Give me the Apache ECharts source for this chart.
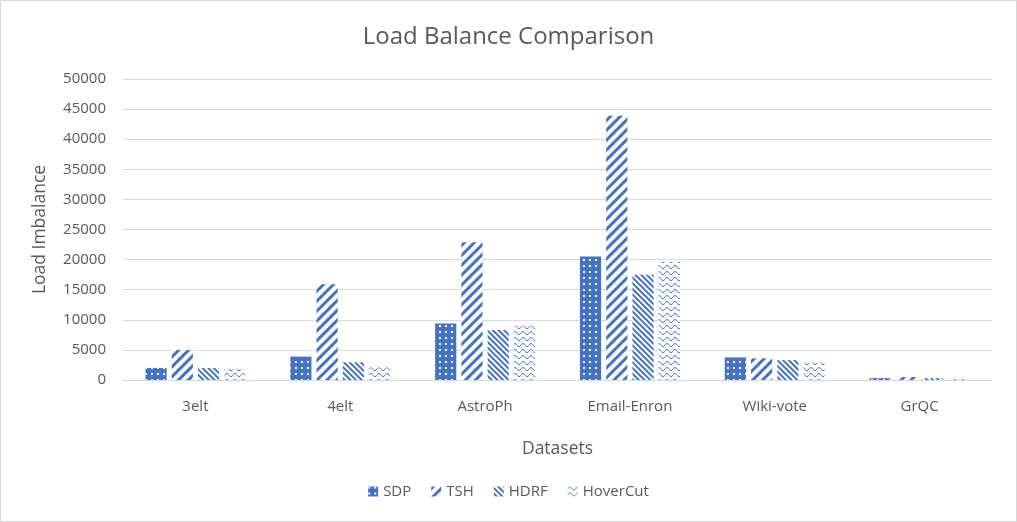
<!DOCTYPE html>
<html>
<head>
<meta charset="utf-8">
<script src="https://cdn.jsdelivr.net/npm/echarts@6/dist/echarts.min.js"></script>
<style>
    html, body { margin: 0; padding: 0; background: #fff; }
    #chart { width: 1017px; height: 522px; box-sizing: border-box; border: 1px solid #d9d9d9; }
</style>
</head>
<body>
<div id="chart"></div>
<script>
var categories = ['3elt', '4elt', 'AstroPh', 'Email-Enron', 'Wiki-vote', 'GrQC'];
var seriesNames = ['SDP', 'TSH', 'HDRF', 'HoverCut'];
var sdpValues = [2000, 3900, 9400, 20500, 3750, 300];
var tshValues = [5000, 15900, 22900, 43900, 3600, 500];
var hdrfValues = [2000, 2950, 8300, 17500, 3300, 300];
var hoverCutValues = [1800, 2100, 9000, 19600, 2900, 200];

var main = function () {
    var blue = '#4472c4';
    var textColor = '#595959';
    var font = '"Open Sans", "Noto Sans", sans-serif';

    // pattern fills, close to the excel ones
    var decals = {
        SDP: {
            color: '#fff', symbol: 'rect', symbolSize: 1,
            dashArrayX: [1.4, 3.6], dashArrayY: [1.4, 3.6]
        },
        TSH: {
            color: blue, symbol: 'rect', symbolSize: 1,
            dashArrayX: [[1, 0]], dashArrayY: [2.6, 3.2], rotation: -Math.PI / 4
        },
        HDRF: {
            color: blue, symbol: 'rect', symbolSize: 1,
            dashArrayX: [[1, 0]], dashArrayY: [1.6, 1.5], rotation: Math.PI / 4
        },
        HoverCut: {
            color: blue,
            symbol: 'path://M0,1.5 C1.3,-0.5 2.7,-0.5 4,1.5 C5.3,3.5 6.7,3.5 8,1.5 L8,2.5 C6.7,4.5 5.3,4.5 4,2.5 C2.7,0.5 1.3,0.5 0,2.5 Z',
            symbolSize: 1, symbolKeepAspect: false,
            dashArrayX: [[8, 0]], dashArrayY: [4, 2]
        }
    };
    var values = {SDP: sdpValues, TSH: tshValues, HDRF: hdrfValues, HoverCut: hoverCutValues};

    var makeSeries = function (name) {
        return {
            name: name,
            type: 'bar',
            data: values[name],
            barGap: '24%',
            barCategoryGap: '31%',
            itemStyle: {
                color: name === 'SDP' ? blue : '#fff',
                decal: decals[name]
            }
        };
    };

    var myChart = echarts.init(document.getElementById('chart'));
    var option = {
        animation: false,
        backgroundColor: '#fff',
        textStyle: {fontFamily: font},
        title: {
            text: 'Load Balance Comparison',
            left: 'center',
            top: 19,
            textStyle: {color: textColor, fontSize: 24, fontWeight: 'normal', fontFamily: font}
        },
        legend: {
            data: seriesNames,
            bottom: 17,
            left: 'center',
            itemWidth: 10,
            itemHeight: 10,
            itemGap: 20,
            icon: 'rect',
            textStyle: {color: textColor, fontSize: 15, fontFamily: font}
        },
        grid: {left: 122, right: 24, top: 78, bottom: 141},
        xAxis: {
            type: 'category',
            data: categories,
            name: 'Datasets',
            nameLocation: 'middle',
            nameGap: 60,
            nameTextStyle: {color: textColor, fontSize: 17.5, fontFamily: font},
            axisLine: {lineStyle: {color: '#d9d9d9'}},
            axisTick: {show: false},
            axisLabel: {color: textColor, fontSize: 15, margin: 19, fontFamily: font}
        },
        yAxis: {
            type: 'value',
            min: 0,
            max: 50000,
            interval: 5000,
            name: 'Load Imbalance',
            nameLocation: 'middle',
            nameGap: 74,
            nameTextStyle: {color: textColor, fontSize: 17.5, fontFamily: font},
            axisLine: {show: false},
            axisTick: {show: false},
            splitLine: {lineStyle: {color: '#d9d9d9', width: 1}},
            axisLabel: {
                color: textColor, fontSize: 15, margin: 17, fontFamily: font,
                formatter: function (v) { return String(v); }
            }
        },
        series: seriesNames.map(makeSeries)
    };
    myChart.setOption(option);
}();
</script>
</body>
</html>
